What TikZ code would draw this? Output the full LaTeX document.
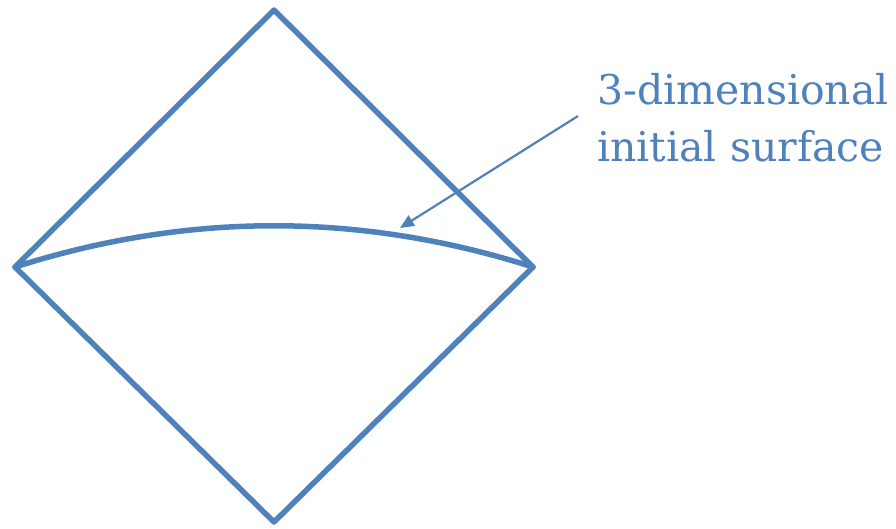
\documentclass[tikz,border=0pt]{standalone}
\usepackage{fontspec}
\setmainfont{DejaVu Serif}
\usetikzlibrary{arrows.meta}
\definecolor{wordblue}{HTML}{4F81BD}
\begin{document}
\begin{tikzpicture}[x=1pt,y=-1pt,
    edge/.style={wordblue, line width=5.5pt, line join=round, line cap=round},
    pointer/.style={wordblue, line width=2.2pt, -{Triangle[length=14pt,width=12pt]}}]
    \useasboundingbox (0,0) rectangle (896,528);
    \coordinate (top) at (274,10);
    \coordinate (left) at (15,267);
    \coordinate (right) at (533,267);
    \coordinate (bottom) at (274,522);
    \draw[edge] (top) -- (right) -- (bottom) -- (left) -- cycle;
    \draw[edge] (left) .. controls (188,212) and (360,212) .. (right);
    \coordinate (tip) at (400,228);
    \coordinate (tail) at (578,116);
    \node[wordblue, anchor=base west, font=\fontsize{41}{57}\selectfont, align=left, inner sep=0pt]
        (label) at (597,161) {3-dimensional\\initial surface};
    \draw[pointer] (tail) -- (tip);
\end{tikzpicture}
\end{document}
